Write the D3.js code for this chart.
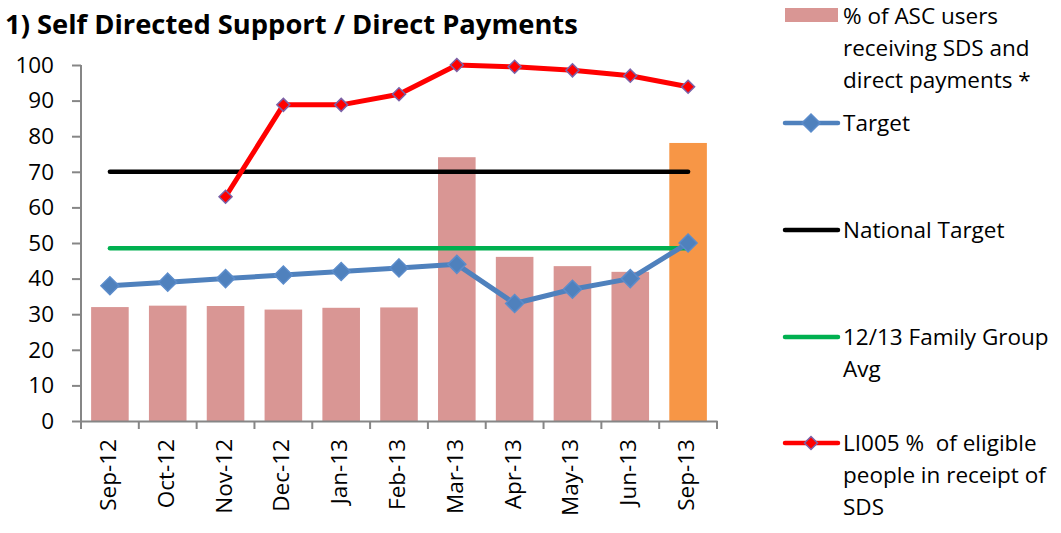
<!DOCTYPE html>
<html>
<head>
<meta charset="utf-8">
<script src="https://cdn.jsdelivr.net/npm/d3@7"></script>
<style>
  body { margin: 0; background: #fff; }
  svg { display: block; font-family: "Open Sans", sans-serif; }
</style>
</head>
<body>
<svg id="chart" width="1061" height="533"></svg>
<script>
var width = 1061;
var height = 533;

// data
var months = ["Sep-12", "Oct-12", "Nov-12", "Dec-12", "Jan-13", "Feb-13", "Mar-13", "Apr-13", "May-13", "Jun-13", "Sep-13"];
var ascUsers = [32.0, 32.4, 32.3, 31.3, 31.8, 31.9, 74.1, 46.1, 43.5, 41.9, 78.1];
var target = [38, 39, 40, 41, 42, 43, 44, 33, 37, 40, 50];
var nationalTarget = [70, 70, 70, 70, 70, 70, 70, 70, 70, 70, 70];
var familyAvg = [48.5, 48.5, 48.5, 48.5, 48.5, 48.5, 48.5, 48.5, 48.5, 48.5, 48.5];
var li005 = [null, null, 63, 88.8, 88.8, 91.8, 100, 99.5, 98.5, 97, 93.9];
var yTicks = [0, 10, 20, 30, 40, 50, 60, 70, 80, 90, 100];

var fontSize = "22.5px";
var axisColor = "#868686";

var svg = d3.select("#chart");

var x = d3.scaleBand()
    .domain(months)
    .range([81, 717])
    .paddingInner(0.35)
    .paddingOuter(0.175);

var y = d3.scaleLinear()
    .domain([0, 100])
    .range([421, 65]);

// title, squeezed to the width it has in the picture
var title = svg.append("text")
    .attr("x", 5)
    .attr("y", 34)
    .style("font-size", "24px")
    .style("font-weight", "bold")
    .text("1) Self Directed Support / Direct Payments");
var tw = title.node().getComputedTextLength();
title.style("font-size", (24 * 573 / tw) + "px");

// bars
svg.append("g")
    .selectAll("rect")
    .data(ascUsers)
    .enter()
    .append("rect")
    .attr("x", function (d, i) { return x(months[i]); })
    .attr("y", function (d) { return y(d); })
    .attr("width", x.bandwidth())
    .attr("height", function (d) { return y(0) - y(d); })
    .attr("fill", function (d, i) { return i == months.length - 1 ? "#F79646" : "#D99694"; });

// axes
var yAxis = svg.append("g")
    .attr("transform", "translate(81,0)")
    .call(d3.axisLeft(y).tickValues(yTicks).tickSize(9).tickPadding(18));

var xAxis = svg.append("g")
    .attr("transform", "translate(0," + y(0) + ")")
    .call(d3.axisBottom(x).tickSize(0).tickFormat(""));

// category boundary ticks on the x axis
var step = x.step();
var bounds = d3.range(months.length + 1).map(function (i) { return 81 + i * step; });
xAxis.selectAll("line.bnd")
    .data(bounds)
    .enter()
    .append("line")
    .attr("class", "bnd")
    .attr("x1", function (d) { return d; })
    .attr("x2", function (d) { return d; })
    .attr("y1", 0)
    .attr("y2", 8)
    .attr("stroke", axisColor)
    .attr("stroke-width", 2);

[yAxis, xAxis].forEach(function (g) {
    g.select(".domain").attr("stroke", axisColor).attr("stroke-width", 2);
    g.selectAll(".tick line").attr("stroke", axisColor).attr("stroke-width", 2);
    g.selectAll("text").style("font-family", "'Open Sans', sans-serif").attr("fill", "#000");
});
yAxis.selectAll("text").style("font-size", fontSize);
yAxis.select(".domain").attr("d", "M0," + y(0) + "V" + y(100));

// rotated month labels
svg.append("g")
    .selectAll("text")
    .data(months)
    .enter()
    .append("text")
    .attr("transform", function (d) {
        return "translate(" + (x(d) + x.bandwidth() / 2 + 6) + "," + 439 + ") rotate(-90)";
    })
    .attr("text-anchor", "end")
    .style("font-size", fontSize)
    .text(function (d) { return d; });

var cx = function (d, i) { return x(months[i]) + x.bandwidth() / 2; };

function drawLine(values, color, w) {
    var line = d3.line()
        .defined(function (d) { return d != null; })
        .x(cx)
        .y(function (d) { return y(d); });
    svg.append("path")
        .datum(values)
        .attr("d", line)
        .attr("fill", "none")
        .attr("stroke", color)
        .attr("stroke-width", w)
        .attr("stroke-linejoin", "round")
        .attr("stroke-linecap", "round");
}

function diamond(r) {
    return "M0," + (-r) + "L" + r + ",0L0," + r + "L" + (-r) + ",0Z";
}

function markers(values, r, fill, stroke, sw) {
    var pts = [];
    values.forEach(function (d, i) { if (d != null) pts.push({ v: d, i: i }); });
    svg.append("g")
        .selectAll("path")
        .data(pts)
        .enter()
        .append("path")
        .attr("d", diamond(r))
        .attr("transform", function (p) { return "translate(" + cx(p.v, p.i) + "," + y(p.v) + ")"; })
        .attr("fill", fill)
        .attr("stroke", stroke)
        .attr("stroke-width", sw);
}

drawLine(nationalTarget, "#000000", 4.5);
drawLine(familyAvg, "#00B050", 4.5);
drawLine(target, "#4F81BD", 5);
markers(target, 9, "#4F81BD", "#5B8CCB", 1.5);
drawLine(li005, "#FF0000", 5);
markers(li005, 6.5, "#FF0000", "#7B62A8", 1.5);

// legend
var legend = svg.append("g").style("font-size", fontSize);
var lx1 = 785, lx2 = 838, tx = 843;

legend.append("rect")
    .attr("x", lx1).attr("y", 8)
    .attr("width", lx2 - lx1).attr("height", 14)
    .attr("fill", "#D99694");

var legendItems = [
    { lines: ["% of ASC users", "receiving SDS and", "direct payments *"], y: 16 },
    { lines: ["Target"], y: 123, color: "#4F81BD", mark: "big" },
    { lines: ["National Target"], y: 230, color: "#000000" },
    { lines: ["12/13 Family Group", "Avg"], y: 337, color: "#00B050" },
    { lines: ["LI005 %  of eligible", "people in receipt of", "SDS"], y: 443, color: "#FF0000", mark: "small" }
];

legendItems.forEach(function (it) {
    if (it.color) {
        legend.append("line")
            .attr("x1", lx1).attr("x2", lx2)
            .attr("y1", it.y).attr("y2", it.y)
            .attr("stroke", it.color)
            .attr("stroke-width", 4.5)
            .attr("stroke-linecap", "round");
    }
    if (it.mark == "big") {
        legend.append("path").attr("d", diamond(9))
            .attr("transform", "translate(811," + it.y + ")")
            .attr("fill", "#4F81BD").attr("stroke", "#5B8CCB").attr("stroke-width", 1.5);
    }
    if (it.mark == "small") {
        legend.append("path").attr("d", diamond(6.5))
            .attr("transform", "translate(811," + it.y + ")")
            .attr("fill", "#FF0000").attr("stroke", "#7B62A8").attr("stroke-width", 1.5);
    }
    it.lines.forEach(function (t, k) {
        legend.append("text")
            .attr("x", tx)
            .attr("y", it.y + k * 32 + 8)
            .style("white-space", "pre")
            .text(t);
    });
});
</script>
</body>
</html>
